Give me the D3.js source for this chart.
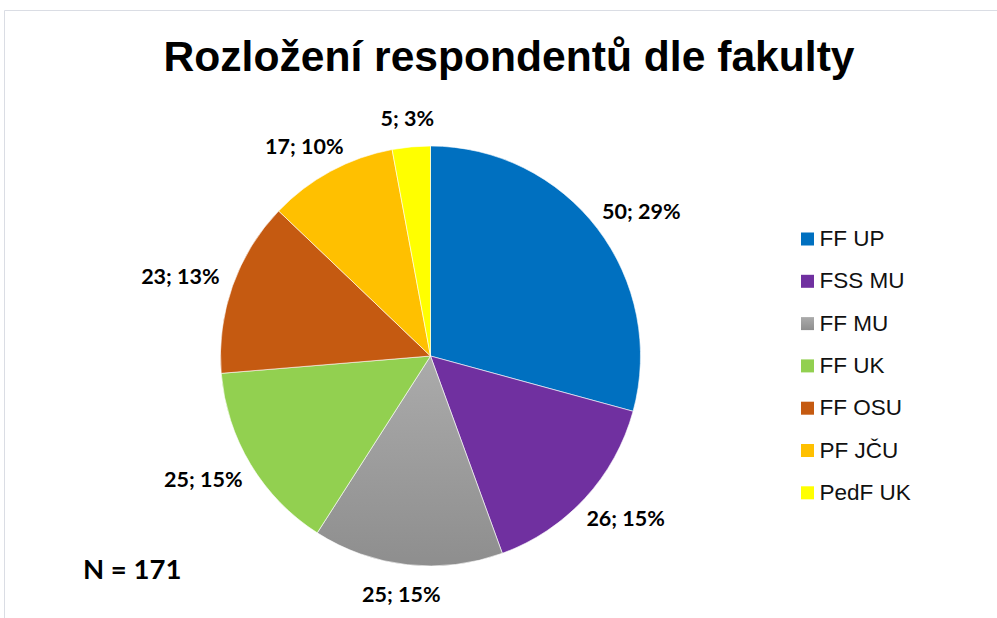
<!DOCTYPE html>
<html>
<head>
<meta charset="utf-8">
<script src="https://cdn.jsdelivr.net/npm/d3@7"></script>
<style>
  body { margin: 0; background: #fff; }
  svg { display: block; }
</style>
</head>
<body>
<div id="chart"></div>
<script>
const categories = ['FF UP', 'FSS MU', 'FF MU', 'FF UK', 'FF OSU', 'PF JČU', 'PedF UK'];
const counts = [50, 26, 25, 25, 23, 17, 5];
const percents = ['29%', '15%', '15%', '15%', '13%', '10%', '3%'];
const fills = ['#0070c0', '#7030a0', 'url(#greyGrad)', '#92d050', '#c55a11', '#ffc000', '#ffff00'];
const title = 'Rozložení respondentů dle fakulty';
const note = 'N = 171';

const width = 997;
const height = 618;
const cx = 430.5;
const cy = 356;
const radius = 210;

const dataset = categories.map((c, i) => ({ label: c, count: counts[i], pct: percents[i], fill: fills[i] }));

const svg = d3.select('#chart')
   .append('svg')
   .attr('width', width)
   .attr('height', height);

const defs = svg.append('defs');
const grad = defs.append('linearGradient')
   .attr('id', 'greyGrad')
   .attr('x1', 0).attr('y1', 0).attr('x2', 0).attr('y2', 1);
grad.append('stop').attr('offset', '0%').attr('stop-color', '#ababab');
grad.append('stop').attr('offset', '100%').attr('stop-color', '#8e8e8e');

// frame
svg.append('path')
   .attr('d', `M4.5,${height} V10.5 H${width}`)
   .attr('fill', 'none')
   .attr('stroke', '#dadde4')
   .attr('stroke-width', 1);

svg.append('text')
   .attr('x', 509)
   .attr('y', 71)
   .attr('text-anchor', 'middle')
   .style('font-family', 'Liberation Sans, Arial, sans-serif')
   .style('font-weight', 'bold')
   .style('font-size', '42.6px')
   .text(title);

const pie = d3.pie()
   .value(d => d.count)
   .sort(null);

const arc = d3.arc()
   .innerRadius(0)
   .outerRadius(radius);

const g = svg.append('g')
   .attr('transform', `translate(${cx},${cy})`);

const arcs = pie(dataset);

g.selectAll('path')
   .data(arcs)
   .enter()
   .append('path')
   .attr('d', arc)
   .attr('fill', d => d.data.fill)
   .attr('stroke', '#fff')
   .attr('stroke-width', 0.6);

// data labels outside end
const labelGap = 16;
g.selectAll('.lbl')
   .data(arcs)
   .enter()
   .append('text')
   .attr('class', 'lbl')
   .style('font-family', 'Lato, sans-serif')
   .style('font-weight', 'bold')
   .style('font-size', '21.5px')
   .attr('text-anchor', 'middle')
   .attr('dominant-baseline', 'central')
   .text(d => `${d.data.count}; ${d.data.pct}`)
   .each(function(d) {
      const box = this.getBBox();
      const a = (d.startAngle + d.endAngle) / 2;
      const s = Math.sin(a), c = Math.cos(a);
      const r = radius + labelGap;
      const x = r * s + s * box.width / 2;
      const y = -r * c - c * box.height / 2;
      d3.select(this).attr('x', x).attr('y', y);
   });

// legend
const legendX = 801;
const legendY = 232.5;
const legendStep = 42.3;
const rectSize = 13;

const legend = svg.selectAll('.legend')
   .data(dataset)
   .enter()
   .append('g')
   .attr('class', 'legend')
   .attr('transform', (d, i) => `translate(${legendX},${legendY + i * legendStep})`);

legend.append('rect')
   .attr('width', rectSize)
   .attr('height', rectSize)
   .attr('fill', d => d.fill);

legend.append('text')
   .attr('x', 18.5)
   .attr('y', 13.5)
   .style('font-family', 'Liberation Sans, Arial, sans-serif')
   .style('font-size', '22.5px')
   .attr('fill', '#111')
   .text(d => d.label);

svg.append('text')
   .attr('x', 83)
   .attr('y', 579)
   .style('font-family', 'Lato, sans-serif')
   .style('font-weight', 'bold')
   .style('font-size', '27.5px')
   .text(note);
</script>
</body>
</html>
